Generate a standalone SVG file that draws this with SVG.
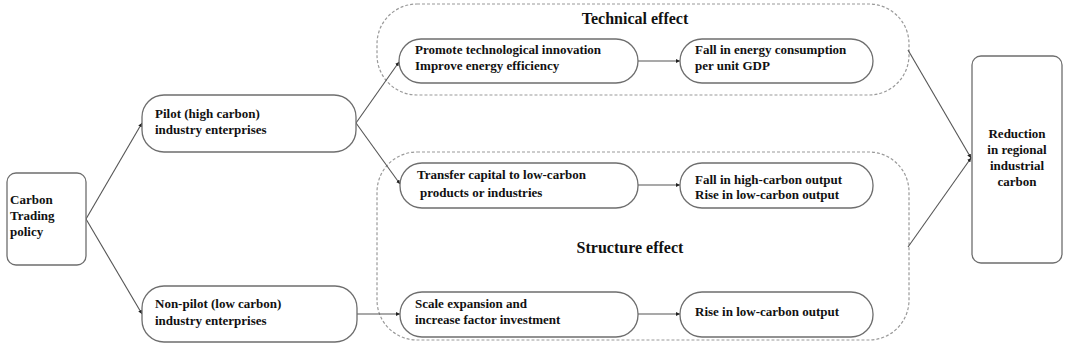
<svg xmlns="http://www.w3.org/2000/svg" width="1065" height="346" viewBox="0 0 1065 346">
<style>
.box{fill:#fff;stroke:#6e6e6e;stroke-width:1.3}
.grp{fill:none;stroke:#9a9a9a;stroke-width:1.2;stroke-dasharray:3 2}
.t{font-family:"Liberation Serif","Times New Roman",serif;font-weight:bold;font-size:13px;fill:#111}
.title{font-family:"Liberation Serif","Times New Roman",serif;font-weight:bold;font-size:16px;fill:#111}
.c{fill:none;stroke:#555;stroke-width:1.1}
</style>
<defs>
<marker id="ah" viewBox="0 0 6 6" refX="6" refY="3" markerWidth="4" markerHeight="4" orient="auto" markerUnits="userSpaceOnUse">
<path d="M0,0 L6,3 L0,6 Z" fill="#222"/>
</marker>
</defs>
<rect width="1065" height="346" fill="#fff"/>
<g id="technical-effect">
<rect class="grp" x="377" y="4" width="532" height="91" rx="40" ry="40"/>
<text class="title" x="635" y="24" text-anchor="middle">Technical effect</text>
</g>
<g id="structure-effect">
<rect class="grp" x="377" y="152" width="532" height="188" rx="40" ry="40"/>
<text class="title" x="630" y="253" text-anchor="middle">Structure effect</text>
</g>
<g id="connectors">
<path class="c" d="M86,219 L142,123" marker-end="url(#ah)"/>
<path class="c" d="M86,219 L142,314" marker-end="url(#ah)"/>
<path class="c" d="M356,123 L399,62" marker-end="url(#ah)"/>
<path class="c" d="M356,123 L400,184" marker-end="url(#ah)"/>
<path class="c" d="M357,314 L400,314" marker-end="url(#ah)"/>
<path class="c" d="M638,61 L680,61" marker-end="url(#ah)"/>
<path class="c" d="M638,185 L680,185" marker-end="url(#ah)"/>
<path class="c" d="M638,314 L680,314" marker-end="url(#ah)"/>
<path class="c" d="M908,50 L971,158" marker-end="url(#ah)"/>
<path class="c" d="M908,247 L971,158" marker-end="url(#ah)"/>
</g>
<g id="carbon-trading-policy">
<rect class="box" x="7" y="173" width="79" height="92" rx="9" ry="9"/>
<text class="t" x="10" y="204">Carbon</text>
<text class="t" x="10" y="220">Trading</text>
<text class="t" x="10" y="236">policy</text>
</g>
<g id="pilot">
<rect class="box" x="142" y="95" width="214" height="57" rx="22" ry="22"/>
<text class="t" x="155" y="118">Pilot (high carbon)</text>
<text class="t" x="155" y="134">industry enterprises</text>
</g>
<g id="non-pilot">
<rect class="box" x="142" y="286" width="215" height="56" rx="22" ry="22"/>
<text class="t" x="155" y="308">Non-pilot (low carbon)</text>
<text class="t" x="155" y="325">industry enterprises</text>
</g>
<g id="promote">
<rect class="box" x="399" y="39" width="239" height="44" rx="22" ry="22"/>
<text class="t" x="415" y="54">Promote technological innovation</text>
<text class="t" x="415" y="70">Improve energy efficiency</text>
</g>
<g id="fall-energy">
<rect class="box" x="680" y="39" width="193" height="44" rx="22" ry="22"/>
<text class="t" x="695" y="54">Fall in energy consumption</text>
<text class="t" x="695" y="70">per unit GDP</text>
</g>
<g id="transfer">
<rect class="box" x="400" y="163" width="238" height="45" rx="22" ry="22"/>
<text class="t" x="417" y="179">Transfer capital to low-carbon</text>
<text class="t" x="420" y="197">products or industries</text>
</g>
<g id="fall-high">
<rect class="box" x="680" y="163" width="193" height="45" rx="22" ry="22"/>
<text class="t" x="695" y="184">Fall in high-carbon output</text>
<text class="t" x="695" y="199">Rise in low-carbon output</text>
</g>
<g id="scale">
<rect class="box" x="400" y="292" width="238" height="45" rx="22" ry="22"/>
<text class="t" x="415" y="308">Scale expansion and</text>
<text class="t" x="415" y="324">increase factor investment</text>
</g>
<g id="rise-low">
<rect class="box" x="680" y="292" width="193" height="45" rx="22" ry="22"/>
<text class="t" x="695" y="316">Rise in low-carbon output</text>
</g>
<g id="reduction">
<rect class="box" x="972" y="56" width="90" height="207" rx="9" ry="9"/>
<text class="t" x="1017" y="138" text-anchor="middle">Reduction</text>
<text class="t" x="1017" y="154" text-anchor="middle">in regional</text>
<text class="t" x="1017" y="170" text-anchor="middle">industrial</text>
<text class="t" x="1017" y="186" text-anchor="middle">carbon</text>
</g>
</svg>
